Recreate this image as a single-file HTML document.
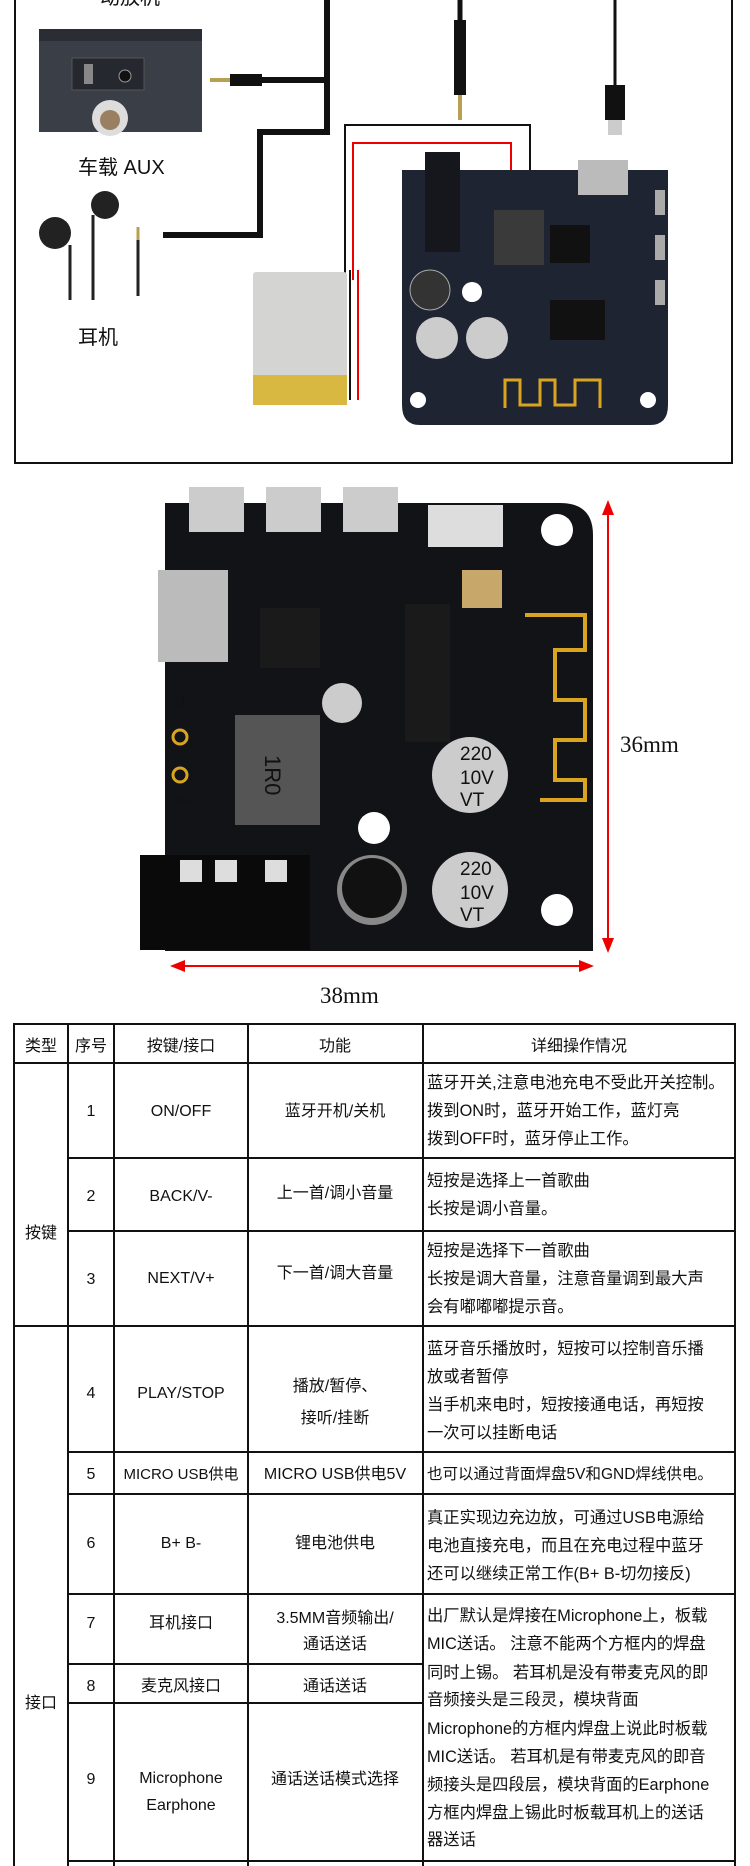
<!DOCTYPE html>
<html><head><meta charset="utf-8">
<style>
html,body{margin:0;padding:0;background:#fff;}
svg{display:block;}
text{font-family:"Liberation Sans","Noto Sans CJK SC",sans-serif;fill:#111;}
.c{text-anchor:middle;}
.t{font-size:16px;}
.d{font-size:16.3px;}
</style></head><body>
<svg width="750" height="1866" viewBox="0 0 750 1866" xmlns="http://www.w3.org/2000/svg">
<rect x="15" y="-3" width="717" height="466" fill="#fff" stroke="#111" stroke-width="2"/>
<text x="100" y="4" font-size="20">动放机</text>
<rect x="39" y="29" width="163" height="103" fill="#3a3e47"/>
<rect x="39" y="29" width="163" height="12" fill="#2a2d33"/>
<rect x="72" y="58" width="72" height="32" fill="#25282e" stroke="#555" stroke-width="1"/>
<rect x="84" y="64" width="9" height="20" fill="#888"/>
<circle cx="125" cy="76" r="6" fill="#111" stroke="#999"/>
<circle cx="110" cy="118" r="18" fill="#ddd"/>
<circle cx="110" cy="120" r="10" fill="#9a8060"/>
<text x="78" y="174" font-size="20">车载 AUX</text>
<circle cx="105" cy="205" r="14" fill="#222"/>
<circle cx="55" cy="233" r="16" fill="#222"/>
<line x1="70" y1="245" x2="70" y2="300" stroke="#222" stroke-width="3"/>
<line x1="93" y1="215" x2="93" y2="300" stroke="#222" stroke-width="3"/>
<line x1="138" y1="228" x2="138" y2="296" stroke="#222" stroke-width="3"/>
<line x1="138" y1="227" x2="138" y2="240" stroke="#b8a050" stroke-width="3"/>
<text x="78" y="344" font-size="20">耳机</text>
<path d="M327 0 V132 H260 V235 H163" fill="none" stroke="#111" stroke-width="6"/>
<path d="M262 80 H327" fill="none" stroke="#111" stroke-width="6"/>
<rect x="230" y="74" width="32" height="12" fill="#111"/>
<rect x="210" y="78" width="20" height="4" fill="#b8a050"/>
<line x1="460" y1="0" x2="460" y2="80" stroke="#111" stroke-width="5"/>
<rect x="454" y="20" width="12" height="75" fill="#111"/>
<rect x="458" y="95" width="4" height="25" fill="#b8a050"/>
<line x1="615" y1="0" x2="615" y2="90" stroke="#111" stroke-width="3"/>
<rect x="605" y="85" width="20" height="35" fill="#111"/>
<rect x="608" y="120" width="14" height="15" fill="#ccc"/>
<path d="M345 280 V125 H530 V180" fill="none" stroke="#111" stroke-width="2"/>
<path d="M353 280 V143 H511 V180" fill="none" stroke="#e00" stroke-width="2"/>
<path d="M350 270 V400" fill="none" stroke="#111" stroke-width="2"/>
<path d="M358 270 V400" fill="none" stroke="#e00" stroke-width="2"/>
<rect x="253" y="272" width="94" height="133" rx="3" fill="#d4d4d2"/>
<rect x="253" y="375" width="94" height="30" fill="#d8b840"/>
<path d="M402 170 H668 V405 Q668 425 650 425 H420 Q402 425 402 405 Z" fill="#1f2433"/>
<rect x="425" y="152" width="35" height="100" fill="#15171c"/>
<rect x="578" y="160" width="50" height="35" fill="#bbb"/>
<rect x="494" y="210" width="50" height="55" fill="#3a3a3a"/>
<rect x="550" y="225" width="40" height="38" fill="#111"/>
<circle cx="430" cy="290" r="20" fill="#333" stroke="#aaa"/>
<circle cx="472" cy="292" r="10" fill="#fff"/>
<circle cx="437" cy="338" r="21" fill="#ccc"/>
<circle cx="487" cy="338" r="21" fill="#ccc"/>
<rect x="550" y="300" width="55" height="40" fill="#111"/>
<path d="M505 408 V380 H520 V405 H540 V380 H555 V405 H575 V380 H600 V408" fill="none" stroke="#d9a520" stroke-width="3"/>
<circle cx="418" cy="400" r="8" fill="#fff"/>
<circle cx="648" cy="400" r="8" fill="#fff"/>
<rect x="655" y="190" width="10" height="25" fill="#aaa"/>
<rect x="655" y="235" width="10" height="25" fill="#aaa"/>
<rect x="655" y="280" width="10" height="25" fill="#aaa"/>

<path d="M165 503 H560 Q593 503 593 535 V951 H165 Z" fill="#121317"/>
<rect x="189" y="487" width="55" height="45" fill="#ccc"/>
<rect x="266" y="487" width="55" height="45" fill="#ccc"/>
<rect x="343" y="487" width="55" height="45" fill="#ccc"/>
<rect x="428" y="505" width="75" height="42" fill="#ddd"/>
<circle cx="557" cy="530" r="16" fill="#fff"/>
<circle cx="557" cy="910" r="16" fill="#fff"/>
<circle cx="374" cy="828" r="16" fill="#fff"/>
<rect x="158" y="570" width="70" height="92" fill="#bbb"/>
<rect x="260" y="608" width="60" height="60" fill="#1a1a1a"/>
<rect x="405" y="604" width="45" height="138" fill="#1a1a1a"/>
<rect x="462" y="570" width="40" height="38" fill="#c8a86a"/>
<rect x="235" y="715" width="85" height="110" fill="#555"/>
<text x="250" y="770" font-size="22" fill="#442" transform="rotate(90 265 770)">1R0</text>
<circle cx="342" cy="703" r="20" fill="#ccc"/>
<circle cx="470" cy="775" r="38" fill="#ccc"/>
<circle cx="470" cy="890" r="38" fill="#ccc"/>
<text x="460" y="760" font-size="19" fill="#533">220</text>
<text x="460" y="784" font-size="19" fill="#533">10V</text>
<text x="460" y="806" font-size="19" fill="#533">VT</text>
<text x="460" y="875" font-size="19" fill="#533">220</text>
<text x="460" y="899" font-size="19" fill="#533">10V</text>
<text x="460" y="921" font-size="19" fill="#533">VT</text>
<circle cx="372" cy="890" r="35" fill="#888"/>
<circle cx="372" cy="888" r="30" fill="#111"/>
<rect x="140" y="855" width="170" height="95" fill="#0a0a0a"/>
<rect x="180" y="860" width="22" height="22" fill="#ddd"/>
<rect x="215" y="860" width="22" height="22" fill="#ddd"/>
<rect x="265" y="860" width="22" height="22" fill="#ddd"/>
<circle cx="180" cy="737" r="7" fill="none" stroke="#d9a520" stroke-width="3"/>
<circle cx="180" cy="775" r="7" fill="none" stroke="#d9a520" stroke-width="3"/>
<path d="M525 615 H585 V650 H555 V700 H585 V740 H555 V780 H585 V800 H540" fill="none" stroke="#d9a520" stroke-width="4"/>
<text x="176" y="705" font-size="14" fill="#ddd">B-</text>
<text x="176" y="805" font-size="14" fill="#ddd">B+</text>
<line x1="608" y1="512" x2="608" y2="942" stroke="#e00" stroke-width="2"/>
<polygon points="608,500 602,515 614,515" fill="#e00"/>
<polygon points="608,953 602,938 614,938" fill="#e00"/>
<line x1="183" y1="966" x2="582" y2="966" stroke="#e00" stroke-width="2"/>
<polygon points="170,966 185,960 185,972" fill="#e00"/>
<polygon points="594,966 579,960 579,972" fill="#e00"/>
<text x="620" y="752" font-size="23" style="font-family:'Liberation Serif',serif">36mm</text>
<text x="320" y="1003" font-size="23" style="font-family:'Liberation Serif',serif">38mm</text>

<g stroke="#111" stroke-width="2" fill="none">
<rect x="14" y="1024" width="721" height="850"/>
<line x1="68" y1="1024" x2="68" y2="1866"/>
<line x1="114" y1="1024" x2="114" y2="1866"/>
<line x1="248" y1="1024" x2="248" y2="1866"/>
<line x1="423" y1="1024" x2="423" y2="1866"/>
<line x1="14" y1="1063" x2="735" y2="1063"/>
<line x1="68" y1="1158" x2="735" y2="1158"/>
<line x1="68" y1="1231" x2="735" y2="1231"/>
<line x1="14" y1="1326" x2="735" y2="1326"/>
<line x1="68" y1="1452" x2="735" y2="1452"/>
<line x1="68" y1="1494" x2="735" y2="1494"/>
<line x1="68" y1="1594" x2="735" y2="1594"/>
<line x1="68" y1="1664" x2="423" y2="1664"/>
<line x1="68" y1="1703" x2="423" y2="1703"/>
<line x1="68" y1="1861" x2="735" y2="1861"/>
</g>
<g class="t">
<text class="c" x="41" y="1051">类型</text>
<text class="c" x="91" y="1051">序号</text>
<text class="c" x="181" y="1051">按键/接口</text>
<text class="c" x="335" y="1051">功能</text>
<text class="c" x="579" y="1051">详细操作情况</text>
<text class="c" x="41" y="1238">按键</text>
<text class="c" x="41" y="1708">接口</text>
<text class="c" x="91" y="1116">1</text>
<text class="c" x="181" y="1116">ON/OFF</text>
<text class="c" x="335" y="1116">蓝牙开机/关机</text>
<text class="c" x="91" y="1201">2</text>
<text class="c" x="181" y="1201">BACK/V-</text>
<text class="c" x="335" y="1198">上一首/调小音量</text>
<text class="c" x="91" y="1284">3</text>
<text class="c" x="181" y="1283">NEXT/V+</text>
<text class="c" x="335" y="1278">下一首/调大音量</text>
<text class="c" x="91" y="1398">4</text>
<text class="c" x="181" y="1398">PLAY/STOP</text>
<text class="c" x="335" y="1391">播放/暂停、</text>
<text class="c" x="335" y="1423">接听/挂断</text>
<text class="c" x="91" y="1479">5</text>
<text class="c" x="181" y="1479" font-size="15">MICRO USB供电</text>
<text class="c" x="335" y="1479">MICRO USB供电5V</text>
<text class="c" x="91" y="1548">6</text>
<text class="c" x="181" y="1548">B+ B-</text>
<text class="c" x="335" y="1548">锂电池供电</text>
<text class="c" x="91" y="1628">7</text>
<text class="c" x="181" y="1628">耳机接口</text>
<text class="c" x="335" y="1623">3.5MM音频输出/</text>
<text class="c" x="335" y="1649">通话送话</text>
<text class="c" x="91" y="1691">8</text>
<text class="c" x="181" y="1691">麦克风接口</text>
<text class="c" x="335" y="1691">通话送话</text>
<text class="c" x="91" y="1784">9</text>
<text class="c" x="181" y="1783">Microphone</text>
<text class="c" x="181" y="1810">Earphone</text>
<text class="c" x="335" y="1784">通话送话模式选择</text>
</g>
<g class="d">
<text x="427" y="1088">蓝牙开关,注意电池充电不受此开关控制。</text>
<text x="427" y="1116">拨到ON时，蓝牙开始工作，蓝灯亮</text>
<text x="427" y="1144">拨到OFF时，蓝牙停止工作。</text>
<text x="427" y="1186">短按是选择上一首歌曲</text>
<text x="427" y="1214">长按是调小音量。</text>
<text x="427" y="1256">短按是选择下一首歌曲</text>
<text x="427" y="1284">长按是调大音量，注意音量调到最大声</text>
<text x="427" y="1312">会有嘟嘟嘟提示音。</text>
<text x="427" y="1354">蓝牙音乐播放时，短按可以控制音乐播</text>
<text x="427" y="1382">放或者暂停</text>
<text x="427" y="1410">当手机来电时，短按接通电话，再短按</text>
<text x="427" y="1438">一次可以挂断电话</text>
<text x="427" y="1479" font-size="15.5">也可以通过背面焊盘5V和GND焊线供电。</text>
<text x="427" y="1523">真正实现边充边放，可通过USB电源给</text>
<text x="427" y="1551">电池直接充电，而且在充电过程中蓝牙</text>
<text x="427" y="1579">还可以继续正常工作(B+ B-切勿接反)</text>
<text x="427" y="1621">出厂默认是焊接在Microphone上，板载</text>
<text x="427" y="1649">MIC送话。 注意不能两个方框内的焊盘</text>
<text x="427" y="1678">同时上锡。 若耳机是没有带麦克风的即</text>
<text x="427" y="1705">音频接头是三段灵，模块背面</text>
<text x="427" y="1734">Microphone的方框内焊盘上说此时板载</text>
<text x="427" y="1762">MIC送话。 若耳机是有带麦克风的即音</text>
<text x="427" y="1790">频接头是四段层，模块背面的Earphone</text>
<text x="427" y="1818">方框内焊盘上锡此时板载耳机上的送话</text>
<text x="427" y="1845">器送话</text>
</g>
</svg>
</body></html>
